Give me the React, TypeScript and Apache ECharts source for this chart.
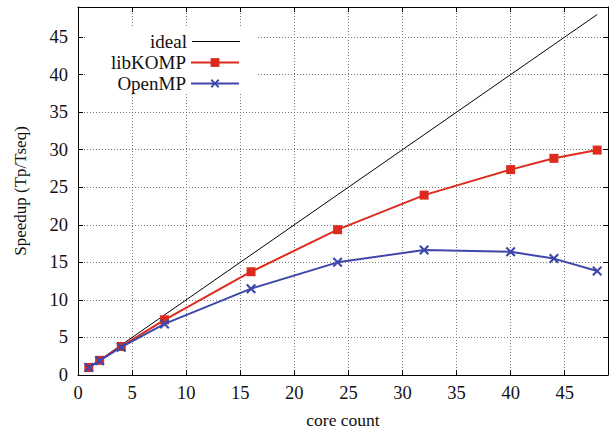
import React, { useEffect, useRef } from "react";
import * as echarts from "echarts";

const cores = [1, 2, 4, 8, 16, 24, 32, 40, 44, 48];
const idealValues = [1, 2, 4, 8, 16, 24, 32, 40, 44, 48];
const libkompValues = [1.0, 1.95, 3.8, 7.35, 13.75, 19.35, 23.95, 27.35, 28.85, 29.95];
const openmpValues = [1.0, 1.9, 3.7, 6.8, 11.5, 15.0, 16.65, 16.4, 15.5, 13.85];
const xTicks = [0, 5, 10, 15, 20, 25, 30, 35, 40, 45];
const yTicks = [0, 5, 10, 15, 20, 25, 30, 35, 40, 45];

const FONT = "Liberation Serif";
const RED = "#dc2b1c";
const BLUE = "#3f47a9";
const X_SYMBOL =
  "path://M0,3L3,0L10,7L17,0L20,3L13,10L20,17L17,20L10,13L3,20L0,17L7,10Z";

export default function App() {
  const ref = useRef<HTMLDivElement>(null);
  useEffect(() => {
    document.body.style.margin = "0";
    const chart = echarts.init(ref.current!, null, { renderer: "svg" });
    const fmt = (list: number[]) => (v: number) => (list.includes(v) ? String(v) : "");
    const commonSplit = {
      show: true,
      lineStyle: { color: "#777", type: [1, 2], width: 1 },
    };
    const axisLine = { show: true, onZero: false, lineStyle: { color: "#000", width: 1 } };
    const tick = { show: true, inside: true, length: 5, lineStyle: { color: "#000" } };
    const legendText = { fontFamily: FONT, fontSize: 19, color: "#111" };
    const legendBase = {
      orient: "horizontal",
      right: 371,
      padding: 0,
      align: "right",
      itemWidth: 48,
      itemHeight: 11,
      textStyle: legendText,
    };
    chart.setOption({
      animation: false,
      backgroundColor: "#fff",
      textStyle: { fontFamily: FONT },
      grid: { left: 78, right: 2, top: 7, bottom: 54 },
      graphic: [
        {
          type: "rect",
          z: 1,
          shape: { x: 86, y: 28, width: 170, height: 66 },
          style: { fill: "#fff" },
        },
      ],
      legend: [
        {
          ...legendBase,
          top: 32,
          itemHeight: 1,
          data: [{ name: "ideal", icon: "rect" }],
        },
        { ...legendBase, top: 53, data: ["libKOMP"] },
        { ...legendBase, top: 74, data: ["OpenMP"] },
      ],
      xAxis: [
        {
          type: "value",
          min: 0,
          max: 49,
          interval: 5,
          name: "core count",
          nameLocation: "middle",
          nameGap: 36,
          nameTextStyle: { fontFamily: FONT, fontSize: 17.5, color: "#111" },
          axisLine,
          axisTick: tick,
          splitLine: commonSplit,
          axisLabel: {
            margin: 8,
            fontFamily: FONT,
            fontSize: 18.5,
            color: "#111",
            formatter: fmt(xTicks),
          },
        },
        {
          type: "value",
          position: "top",
          min: 0,
          max: 49,
          interval: 5,
          axisLine,
          axisTick: tick,
          splitLine: { show: false },
          axisLabel: { show: false },
        },
      ],
      yAxis: [
        {
          type: "value",
          min: 0,
          max: 49,
          interval: 5,
          name: "Speedup (Tp/Tseq)",
          nameLocation: "middle",
          nameGap: 49,
          nameTextStyle: { fontFamily: FONT, fontSize: 17, color: "#111" },
          axisLine,
          axisTick: tick,
          splitLine: commonSplit,
          axisLabel: {
            margin: 10,
            fontFamily: FONT,
            fontSize: 18.5,
            color: "#111",
            formatter: fmt(yTicks),
          },
        },
        {
          type: "value",
          position: "right",
          min: 0,
          max: 49,
          interval: 5,
          axisLine,
          axisTick: tick,
          splitLine: { show: false },
          axisLabel: { show: false },
        },
      ],
      series: [
        {
          name: "ideal",
          type: "line",
          data: cores.map((c, i) => [c, idealValues[i]]),
          showSymbol: false,
          symbol: "none",
          lineStyle: { color: "#000", width: 1 },
          itemStyle: { color: "#000" },
          z: 2,
        },
        {
          name: "libKOMP",
          type: "line",
          data: cores.map((c, i) => [c, libkompValues[i]]),
          symbol: "rect",
          symbolSize: 9,
          lineStyle: { color: RED, width: 2 },
          itemStyle: { color: RED },
          z: 3,
        },
        {
          name: "OpenMP",
          type: "line",
          data: cores.map((c, i) => [c, openmpValues[i]]),
          symbol: X_SYMBOL,
          symbolSize: 10,
          lineStyle: { color: BLUE, width: 2 },
          itemStyle: { color: BLUE },
          z: 4,
        },
      ],
    });
    return () => chart.dispose();
  }, []);
  return <div ref={ref} style={{ width: 611, height: 434 }} />;
}
